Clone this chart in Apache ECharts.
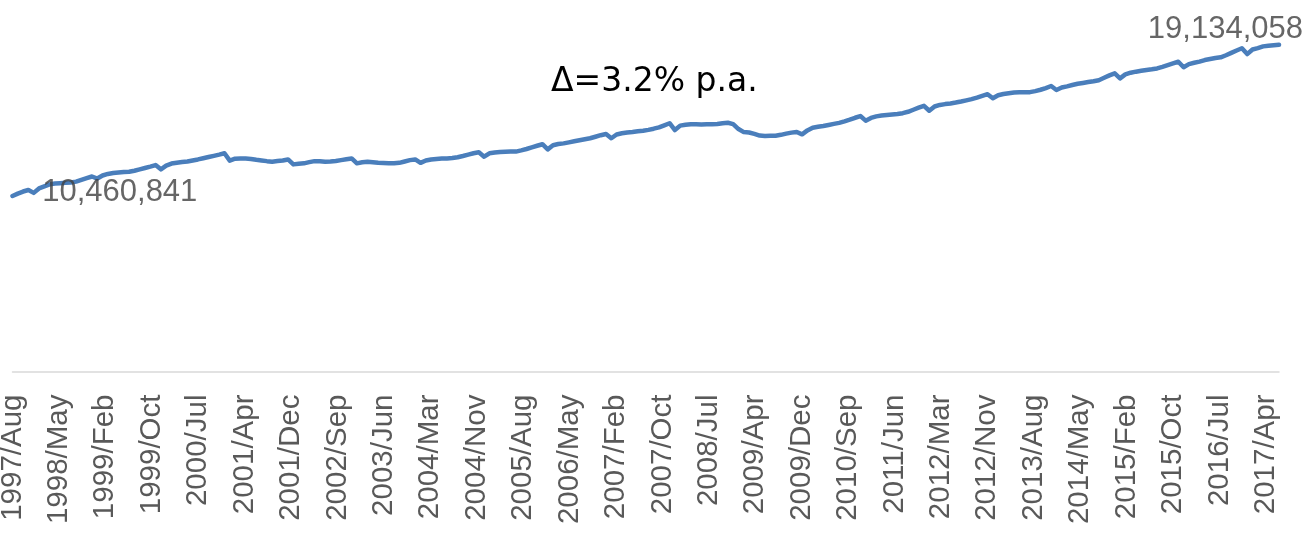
<!DOCTYPE html>
<html>
<head>
<meta charset="utf-8">
<script src="https://cdn.jsdelivr.net/npm/echarts@6/dist/echarts.min.js"></script>
<style>
html,body{margin:0;padding:0;background:#fff;}
#chart{width:1307px;height:534px;}
</style>
</head>
<body>
<div id="chart"></div>
<script>
// Monthly values (millions), 1997/Aug .. 2017/Jul
const values = [
  10.28, 10.42, 10.54, 10.63, 10.460841, 10.72, 10.84, 10.96, 11.01, 11.03, 11.05, 11.07,
  11.12, 11.22, 11.32, 11.42, 11.30, 11.48, 11.57, 11.62, 11.65, 11.68, 11.70, 11.76,
  11.84, 11.92, 12.00, 12.09, 11.84, 12.06, 12.18, 12.23, 12.27, 12.30, 12.36, 12.42,
  12.49, 12.56, 12.63, 12.70, 12.78, 12.35, 12.46, 12.48, 12.48, 12.45, 12.40, 12.36,
  12.32, 12.29, 12.33, 12.36, 12.42, 12.13, 12.17, 12.19, 12.26, 12.32, 12.31, 12.29,
  12.30, 12.33, 12.38, 12.43, 12.48, 12.19, 12.25, 12.28, 12.25, 12.22, 12.21, 12.20,
  12.19, 12.22, 12.30, 12.38, 12.42, 12.22, 12.36, 12.42, 12.45, 12.47, 12.48, 12.50,
  12.55, 12.62, 12.70, 12.78, 12.84, 12.58, 12.78, 12.82, 12.85, 12.87, 12.88, 12.88,
  12.95, 13.03, 13.13, 13.22, 13.31, 13.01, 13.25, 13.32, 13.36, 13.42, 13.48, 13.54,
  13.60, 13.66, 13.75, 13.84, 13.91, 13.66, 13.88, 13.95, 14.00, 14.03, 14.07, 14.10,
  14.15, 14.22, 14.30, 14.42, 14.54, 14.14, 14.40, 14.45, 14.48, 14.48, 14.47, 14.48,
  14.48, 14.50, 14.54, 14.57, 14.49, 14.20, 14.02, 14.00, 13.92, 13.82, 13.79, 13.80,
  13.81, 13.86, 13.93, 13.99, 14.03, 13.89, 14.12, 14.28, 14.33, 14.38, 14.44, 14.50,
  14.56, 14.65, 14.75, 14.86, 14.96, 14.69, 14.85, 14.94, 14.99, 15.02, 15.05, 15.08,
  15.13, 15.21, 15.33, 15.45, 15.56, 15.27, 15.52, 15.61, 15.66, 15.70, 15.75, 15.81,
  15.88, 15.95, 16.04, 16.14, 16.24, 16.00, 16.18, 16.25, 16.30, 16.34, 16.35, 16.35,
  16.36, 16.42, 16.50, 16.60, 16.72, 16.49, 16.63, 16.70, 16.78, 16.85, 16.90, 16.95,
  17.00, 17.06, 17.20, 17.34, 17.46, 17.17, 17.40, 17.50, 17.56, 17.61, 17.66, 17.70,
  17.75, 17.84, 17.94, 18.04, 18.14, 17.82, 18.00, 18.08, 18.15, 18.24, 18.30, 18.36,
  18.40, 18.52, 18.66, 18.80, 18.93, 18.59, 18.86, 18.94, 19.04, 19.08, 19.11, 19.134058
];

// Axis tick labels (one every ~8.76 months)
const tickLabels = [
  '1997/Aug','1998/May','1999/Feb','1999/Oct','2000/Jul','2001/Apr','2001/Dec',
  '2002/Sep','2003/Jun','2004/Mar','2004/Nov','2005/Aug','2006/May','2007/Feb',
  '2007/Oct','2008/Jul','2009/Apr','2009/Dec','2010/Sep','2011/Jun','2012/Mar',
  '2012/Nov','2013/Aug','2014/May','2015/Feb','2015/Oct','2016/Jul','2017/Apr'
];
const tickStep = 8.76;

// Labelled points (indices into values)
const labelledIdx = [4, values.length - 1];
const annotation = '\u0394=3.2% p.a.';

const lineData = values.map((v, i) => [i, v]);
const fmt = v => Math.round(v * 1e6).toLocaleString('en-US');

const labelData = [
  {
    value: [labelledIdx[0], values[labelledIdx[0]]],
    label: { position: 'right', align: 'left', verticalAlign: 'middle', distance: 5, offset: [3, 0] }
  },
  {
    value: [labelledIdx[1], values[labelledIdx[1]]],
    label: { position: 'top', align: 'right', verticalAlign: 'middle', distance: 5, offset: [24, -10] }
  }
];

const chart = echarts.init(document.getElementById('chart'), null, { renderer: 'canvas' });
chart.setOption({
  animation: false,
  backgroundColor: '#ffffff',
  grid: { left: 12.5, right: 28, top: 30, bottom: 162.5, containLabel: false, outerBoundsMode: 'none' },
  xAxis: {
    type: 'value',
    min: 0,
    max: values.length - 1,
    interval: tickStep,
    axisLine: { show: true, lineStyle: { color: '#d9d9d9', width: 1.5 } },
    axisTick: { show: false },
    splitLine: { show: false },
    axisLabel: {
      rotate: 90,
      margin: 23,
      color: '#595959',
      fontFamily: 'Liberation Sans, Arial, sans-serif',
      fontSize: 29.5,
      showMinLabel: true,
      showMaxLabel: true,
      hideOverlap: false,
      formatter: function (v) {
        const k = Math.round(v / tickStep);
        if (Math.abs(v - k * tickStep) > 0.01) return '';
        return tickLabels[k] || '';
      }
    }
  },
  yAxis: {
    type: 'value',
    min: 0,
    max: 20,
    show: false,
    splitLine: { show: false }
  },
  series: [
    {
      type: 'line',
      data: lineData,
      showSymbol: false,
      smooth: false,
      lineStyle: { color: '#4a7ebb', width: 4.5, join: 'round', cap: 'round' },
      itemStyle: { color: '#4a7ebb' },
      z: 2
    },
    {
      type: 'scatter',
      data: labelData,
      symbolSize: 1,
      itemStyle: { color: 'rgba(0,0,0,0)' },
      label: {
        show: true,
        formatter: p => fmt(p.value[1]),
        color: '#404040',
        fontFamily: 'Liberation Sans, Arial, sans-serif',
        fontSize: 31
      },
      z: 3
    }
  ],
  graphic: [
    {
      type: 'text',
      x: 551,
      y: 82,
      style: {
        text: annotation,
        fill: '#000000',
        fontFamily: 'DejaVu Sans',
        fontSize: 33,
        align: 'left',
        verticalAlign: 'middle'
      }
    }
  ]
});
</script>
</body>
</html>
